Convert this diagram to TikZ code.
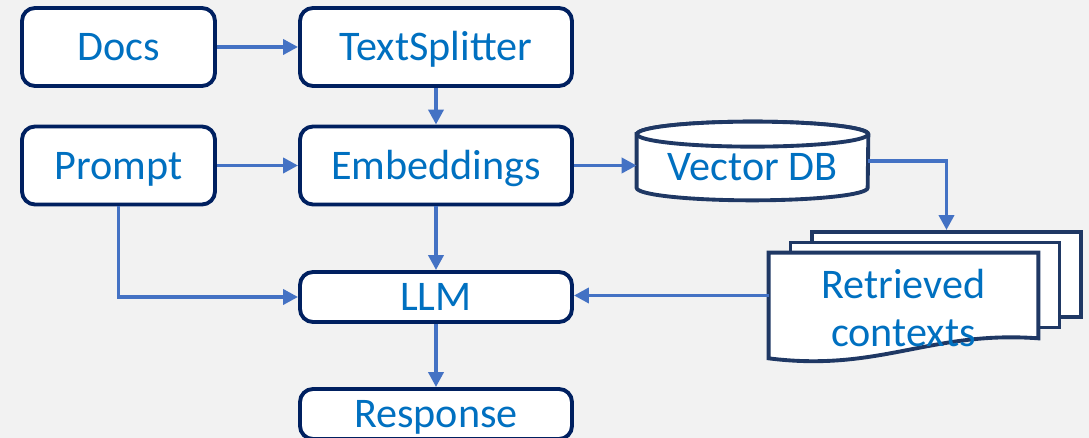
\documentclass[tikz,border=0pt]{standalone}
\usepackage{fontspec}
\setmainfont{Carlito}
\usetikzlibrary{arrows.meta,calc}
\definecolor{boxline}{HTML}{002060}
\definecolor{docline}{HTML}{1F3864}
\definecolor{boxtext}{HTML}{0070C0}
\definecolor{flow}{HTML}{4472C4}
\definecolor{bg}{HTML}{F2F2F2}
\begin{document}
\begin{tikzpicture}[>={Triangle[length=0.3cm,width=0.3cm]},
		label/.style={text=boxtext,font=\fontsize{24}{27.3}\selectfont},
		block/.style={label,draw=boxline,line width=2.2pt,fill=white,rounded corners=0.26cm,text height=15.5pt,text depth=0pt,minimum height=1.56cm,inner sep=0pt},
		link/.style={->,draw=flow,line width=2.1pt},
		sheet/.style={draw=docline,line width=2.2pt,fill=white,minimum width=5.38cm,minimum height=1.7cm,inner sep=0pt}]
	\fill[bg](0,0)rectangle(21.78,8.76);
	\useasboundingbox(0,0)rectangle(21.78,8.76);
	\node[block,minimum width=3.86cm](docs)at(2.37,7.82){Docs};
	\node[block,minimum width=5.44cm](split)at(8.72,7.82){TextSplitter};
	\node[block,minimum width=3.86cm](prompt)at(2.37,5.45){Prompt};
	\node[block,minimum width=5.44cm](embed)at(8.72,5.45){Embeddings};
	\node[block,minimum width=5.44cm,minimum height=1cm](llm)at(8.72,2.82){LLM};
	\node[block,minimum width=5.44cm,minimum height=1cm](resp)at(8.72,0.48){Response};
	\node[minimum width=4.62cm,minimum height=1.56cm,inner sep=0pt](vdb)at(15.05,5.54){};
	\draw[sheet]($(vdb.north west)+(0,-0.25)$)--($(vdb.south west)+(0,0.25)$)
		arc[start angle=180,end angle=360,x radius=2.31cm,y radius=0.25cm]
		--($(vdb.north east)+(0,-0.25)$)
		arc[start angle=0,end angle=180,x radius=2.31cm,y radius=0.25cm]--cycle;
	\draw[sheet]($(vdb.north)+(0,-0.25)$)ellipse[x radius=2.31cm,y radius=0.25cm];
	\node[label,text height=15.5pt,text depth=0pt](vdbtext)at($(vdb)+(0,-0.12)$){Vector DB};
	\node[sheet](back)at(18.93,3.27){};
	\node[sheet](mid)at(18.50,3.06){};
	\node[minimum width=5.38cm,minimum height=1.7cm,inner sep=0pt](ctx)at(18.07,2.85){};
	\draw[sheet](ctx.south east)--(ctx.north east)--(ctx.north west)--($(ctx.south west)+(0,-0.4)$)
		..controls+(2.22,-0.28)and+(-2.16,0.16)..(ctx.south east)--cycle;
	\node[label,align=center](ctxtext)at($(ctx)+(0,-0.26)$){Retrieved\\contexts};
	\draw[link](docs)--(split);
	\draw[link](split)--(embed);
	\draw[link](prompt)--(embed);
	\draw[link](embed.east)--(embed.east-|vdb.west);
	\draw[link](vdb.east)-|(back.north);
	\draw[link](embed)--(llm);
	\draw[link](prompt.south)|-(llm.west);
	\draw[link](ctx.west)--(ctx.west-|llm.east);
	\draw[link](llm)--(resp);
\end{tikzpicture}
\end{document}
